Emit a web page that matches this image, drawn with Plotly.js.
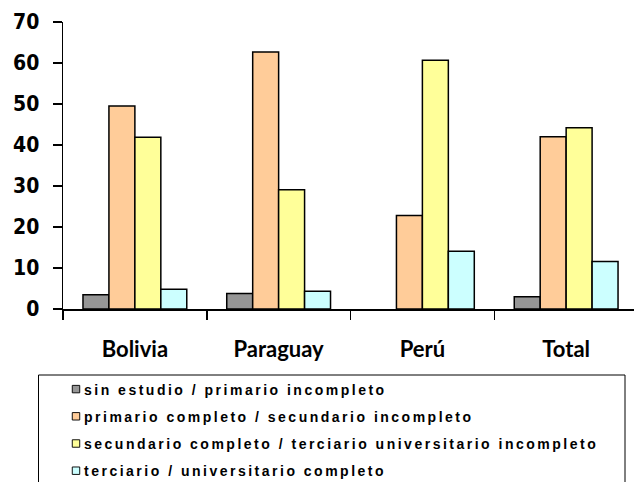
<!DOCTYPE html>
<html>
<head>
<meta charset="utf-8">
<script src="https://cdn.plot.ly/plotly-3.0.1.min.js"></script>
<style>
body{margin:0;padding:0;background:#fff;}
#chart{width:634px;height:482px;}
.legendtext{letter-spacing:2.5px;}
.legendpoints path{transform-box:fill-box;transform-origin:center;transform:translate(32px,0) scale(0.62);}
</style>
</head>
<body>
<div id="chart"></div>
<script>
const categories = ["Bolivia", "Paraguay", "Perú", "Total"];
const seriesNames = [
  "sin estudio / primario incompleto",
  "primario completo / secundario incompleto",
  "secundario completo / terciario universitario incompleto",
  "terciario / universitario completo"
];
const sinEstudio = [3.5, 3.8, null, 3.0];
const primarioCompleto = [49.5, 62.7, 22.8, 42.0];
const secundarioCompleto = [41.9, 29.1, 60.7, 44.2];
const terciarioCompleto = [4.8, 4.3, 14.1, 11.6];
const yTicks = [0, 10, 20, 30, 40, 50, 60, 70];

const seriesValues = [sinEstudio, primarioCompleto, secundarioCompleto, terciarioCompleto];
const colors = ["#969696", "#FFCC99", "#FFFF99", "#CCFFFF"];

const data = seriesValues.map((vals, i) => ({
  type: "bar",
  x: categories,
  y: vals,
  name: seriesNames[i],
  legendgroup: "g" + i,
  marker: {color: colors[i], line: {color: "#000", width: 1.5}},
  hoverinfo: "x+y"
}));

const layout = {
  width: 634,
  height: 482,
  margin: {l: 63, r: 0, t: 22, b: 173},
  paper_bgcolor: "#fff",
  plot_bgcolor: "#fff",
  barmode: "group",
  bargap: 0.278,
  bargroupgap: 0,
  showlegend: true,
  legend: {
    xref: "paper",
    yref: "container",
    x: (44 - 63) / 571,
    xanchor: "left",
    y: 1 - 373.5 / 482,
    yanchor: "top",
    traceorder: "grouped",
    tracegroupgap: 6,
    font: {family: "Liberation Sans, Arial, sans-serif", size: 14, color: "#000", weight: "bold"},
    bgcolor: "rgba(0,0,0,0)",
    borderwidth: 0,
    itemwidth: 30
  },
  xaxis: {
    type: "category",
    automargin: false,
    range: [-0.5, 3.472],
    tickson: "boundaries",
    ticks: "outside",
    ticklen: 9,
    tickwidth: 1.5,
    tickcolor: "#000",
    showline: true,
    linecolor: "#000",
    linewidth: 1.5,
    showgrid: false,
    ticklabelstandoff: 20,
    tickfont: {family: "Lato, Carlito, sans-serif", size: 22, color: "#000", weight: "bold"}
  },
  yaxis: {
    automargin: false,
    range: [0, 70],
    tickvals: yTicks,
    ticktext: yTicks.map(String),
    ticks: "outside",
    ticklen: 9,
    tickwidth: 1.5,
    tickcolor: "#000",
    showline: true,
    linecolor: "#000",
    linewidth: 1.5,
    showgrid: false,
    zeroline: false,
    ticklabelstandoff: 9,
    tickfont: {family: "DejaVu Sans Condensed, DejaVu Sans, sans-serif", size: 21, color: "#000", weight: "bold"}
  },
  shapes: [{
    type: "rect",
    xref: "paper",
    yref: "paper",
    x0: (38.5 - 63) / 571,
    x1: (625 - 63) / 571,
    y0: (309 - 375) / 287,
    y1: (309 - 495) / 287,
    line: {color: "#000", width: 1},
    fillcolor: "rgba(0,0,0,0)"
  }]
};

Plotly.newPlot("chart", data, layout, {displayModeBar: false, staticPlot: true});
</script>
</body>
</html>
